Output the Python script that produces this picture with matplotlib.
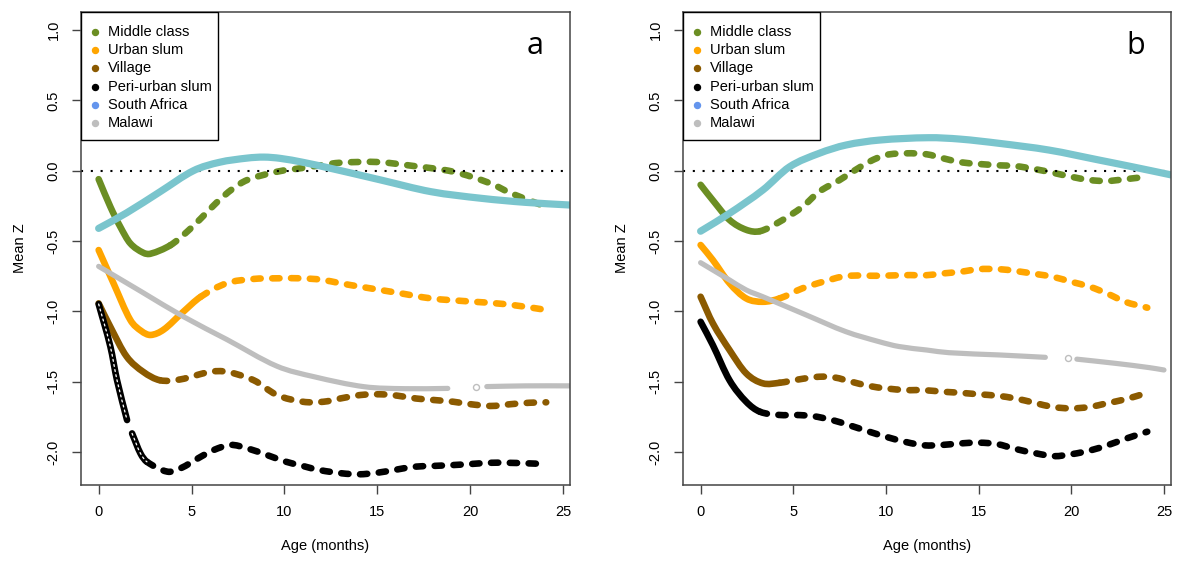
import numpy as np
import matplotlib
matplotlib.use("Agg")
import matplotlib.pyplot as plt
from matplotlib.patches import Rectangle, PathPatch
from matplotlib.path import Path

plt.rcParams['font.family'] = ['Liberation Sans', 'DejaVu Sans']
plt.rcParams['axes.unicode_minus'] = False

# ---------------- data ----------------
groups = ["Middle class", "Urban slum", "Village", "Peri-urban slum", "South Africa", "Malawi"]
legend_colors = ["#6B8E23", "#FFA500", "#8B5A00", "#000000", "#6495ED", "#BEBEBE"]
line_colors = ["#6B8E23", "#FFA500", "#8B5A00", "#000000", "#7AC5CD", "#BEBEBE"]

x_ticks = [0, 5, 10, 15, 20, 25]
y_ticks = [-2.0, -1.5, -1.0, -0.5, 0.0, 0.5, 1.0]

# Panel a
a_mc_age = [0, 0.63, 1.17, 1.7, 2.4, 2.8, 3.86, 4.76, 5.5, 6.4, 7.2, 8.0, 9.6, 11, 12, 13, 15, 17, 19.1, 21.1, 22.2, 24.1]
a_mc_z = [-0.06, -0.256, -0.40, -0.516, -0.583, -0.59, -0.53, -0.434, -0.34, -0.22, -0.13, -0.066, -0.007, 0.02, 0.04, 0.057, 0.062, 0.033, -0.007, -0.09, -0.16, -0.256]

a_us_age = [0, 0.8, 1.7, 2.3, 2.8, 3.5, 4.5, 5.5, 6.9, 8.3, 9.6, 10.9, 12, 13, 14.1, 16.1, 17.9, 20, 22, 24.1]
a_us_z = [-0.564, -0.80, -1.06, -1.14, -1.168, -1.13, -1.01, -0.896, -0.80, -0.77, -0.765, -0.765, -0.775, -0.80, -0.825, -0.868, -0.908, -0.93, -0.95, -0.99]

a_vi_age = [0, 0.63, 1.5, 2.4, 3.3, 4.4, 6.0, 6.9, 8.35, 9.6, 11.0, 12.1, 13.0, 14.1, 15.2, 16.1, 17.1, 18.0, 19.1, 20.0, 21.1, 22.2, 23.2, 24.1]
a_vi_z = [-0.943, -1.11, -1.32, -1.43, -1.49, -1.484, -1.43, -1.43, -1.49, -1.595, -1.643, -1.643, -1.62, -1.595, -1.59, -1.60, -1.62, -1.63, -1.643, -1.66, -1.673, -1.66, -1.65, -1.647]

a_pu_age = [0, 0.63, 0.99, 1.53, np.nan, 1.8, 2.25, 2.6, 3.7, 4.4, 5.5, 6.2, 7.1, 8.0, 9.07, 10.1, 11.0, 11.9, 13.1, 14.0, 15.0, 16.1, 17.0, 17.9, 19.1, 20.0, 21.1, 22.0, 23.1, 24.1]
a_pu_z = [-0.948, -1.25, -1.49, -1.773, np.nan, -1.868, -2.01, -2.07, -2.14, -2.117, -2.034, -1.986, -1.95, -1.974, -2.022, -2.07, -2.10, -2.129, -2.152, -2.159, -2.148, -2.124, -2.105, -2.10, -2.093, -2.086, -2.077, -2.077, -2.081, -2.086]

a_sa_age = [0, 1.5, 3.3, 5.1, 6.5, 8.0, 8.9, 9.78, 11, 12.5, 15.2, 17.9, 20.6, 23, 25.4]
a_sa_z = [-0.41, -0.30, -0.15, 0.0, 0.06, 0.09, 0.097, 0.088, 0.06, 0.017, -0.066, -0.149, -0.196, -0.225, -0.244]

a_mw_age = [0, 2.3, 4.6, 6.9, 9.6, 11.6, 14.3, 16.5, 18.8, np.nan, 20.9, 23, 25.4]
a_mw_z = [-0.68, -0.86, -1.04, -1.20, -1.39, -1.465, -1.536, -1.55, -1.548, np.nan, -1.535, -1.53, -1.53]
a_mw_lone = ([20.3], [-1.54])

# Panel b
b_mc_age = [0, 0.66, 1.56, 2.46, 3.2, 4.26, 5.5, 6.4, 7.5, 8.2, 9.1, 10.0, 11.1, 12.2, 13.1, 14.05, 15.9, 17.0, 18.1, 19.0, 20.0, 21.0, 21.9, 23.0, 24.0]
b_mc_z = [-0.10, -0.21, -0.35, -0.42, -0.43, -0.363, -0.256, -0.149, -0.066, -0.007, 0.064, 0.112, 0.124, 0.117, 0.088, 0.06, 0.04, 0.033, 0.01, -0.014, -0.043, -0.066, -0.073, -0.059, -0.043]

b_us_age = [0, 0.66, 1.56, 2.46, 3.36, 4.26, 5.5, 6.6, 7.85, 9.64, 11.3, 12.0, 13.1, 14.05, 15.0, 16.1, 17.0, 18.1, 19.0, 20.0, 21.0, 22.0, 22.9, 24.1]
b_us_z = [-0.528, -0.635, -0.80, -0.908, -0.932, -0.908, -0.836, -0.79, -0.749, -0.747, -0.742, -0.745, -0.73, -0.718, -0.70, -0.70, -0.713, -0.735, -0.754, -0.79, -0.825, -0.877, -0.932, -0.974]

b_vi_age = [0, 0.66, 1.56, 2.46, 3.36, 4.26, 5.3, 6.4, 7.3, 8.0, 9.1, 10.0, 11.1, 12.0, 13.1, 14.0, 15.0, 16.0, 17.0, 18.0, 19.0, 20.0, 21.0, 21.9, 22.9, 24.1]
b_vi_z = [-0.896, -1.085, -1.275, -1.441, -1.512, -1.508, -1.484, -1.465, -1.472, -1.496, -1.531, -1.548, -1.56, -1.56, -1.572, -1.579, -1.59, -1.60, -1.62, -1.65, -1.68, -1.69, -1.68, -1.654, -1.626, -1.579]

b_pu_age = [0, 0.66, 1.56, 2.46, 3.2, 4.26, 5.15, 6.05, 7.1, 8.0, 9.1, 10.0, 11.1, 12.07, 13.05, 14.05, 15.03, 16.0, 17.0, 18.1, 19.07, 20.06, 21.0, 22.0, 23.0, 24.1]
b_pu_z = [-1.074, -1.24, -1.49, -1.643, -1.714, -1.737, -1.737, -1.745, -1.773, -1.809, -1.856, -1.892, -1.93, -1.953, -1.95, -1.939, -1.934, -1.944, -1.979, -2.01, -2.03, -2.015, -1.99, -1.95, -1.903, -1.856]

b_sa_age = [0, 1.56, 3.36, 4.8, 6.4, 7.85, 9.64, 12.3, 14.0, 16.1, 18.8, 21.5, 23.3, 25.4]
b_sa_z = [-0.43, -0.303, -0.137, 0.028, 0.124, 0.183, 0.218, 0.235, 0.225, 0.195, 0.147, 0.076, 0.028, -0.03]

b_mw_age = [0, 1.56, 2.46, 3.36, 5.7, 7.85, 9.64, 10.7, 12.2, 13.4, 16.1, 18.6, np.nan, 20.3, 22.4, 24.2, 25.0]
b_mw_z = [-0.654, -0.777, -0.848, -0.896, -1.026, -1.145, -1.216, -1.25, -1.275, -1.294, -1.31, -1.327, np.nan, -1.34, -1.37, -1.40, -1.417]
b_mw_lone = ([19.8], [-1.334])

# age up to which each cohort's measurements are continuous (dense)
a_dense_until = {"mc": 3.86, "us": 5.5, "vi": 3.3, "pu": 2.6}
b_dense_until = {"mc": 3.2, "us": 4.26, "vi": 4.26, "pu": 3.2}

# ---------------- drawing ----------------
PX = 72.0 / 100  # points per pixel at 100 dpi
LW = 6.6 * PX
DASH = (0, (1.1, 1.75))


def hermite_tangents(x, y):
    n = len(x)
    m = np.zeros(n)
    if n == 1:
        return m
    m[0] = (y[1] - y[0]) / (x[1] - x[0])
    m[-1] = (y[-1] - y[-2]) / (x[-1] - x[-2])
    for i in range(1, n - 1):
        m[i] = (y[i + 1] - y[i - 1]) / (x[i + 1] - x[i - 1])
    return m


def smooth_path(x, y, m, i0, i1):
    """Cubic Hermite curve through the readings i0..i1 as a Bezier path."""
    verts = [(x[i0], y[i0])]
    codes = [Path.MOVETO]
    for i in range(i0, i1):
        h = x[i + 1] - x[i]
        verts += [(x[i] + h / 3, y[i] + m[i] * h / 3),
                  (x[i + 1] - h / 3, y[i + 1] - m[i + 1] * h / 3),
                  (x[i + 1], y[i + 1])]
        codes += [Path.CURVE4] * 3
    return Path(verts, codes)


def runs(ages, z):
    """Split a series at NaN breaks into contiguous runs."""
    ages = np.asarray(ages, dtype=float)
    z = np.asarray(z, dtype=float)
    ok = ~np.isnan(ages)
    out, start = [], None
    for i, good in enumerate(ok):
        if good and start is None:
            start = i
        if not good and start is not None:
            out.append((ages[start:i], z[start:i]))
            start = None
    if start is not None:
        out.append((ages[start:], z[start:]))
    return out


def add_curve(ax, path, color, lw, zorder, ls='solid'):
    p = PathPatch(path, fill=False, edgecolor=color, lw=lw, zorder=zorder,
                  linestyle=ls, capstyle='round', joinstyle='round')
    ax.add_patch(p)


def draw_cohort(ax, ages, z, color, dense_until, hollow=False):
    for x, y in runs(ages, z):
        m = hermite_tangents(x, y)
        n = len(x)
        hit = np.where(x == dense_until)[0]
        if len(hit):
            k = int(hit[0])
            add_curve(ax, smooth_path(x, y, m, 0, k), color, LW, 2)
            if hollow:
                add_curve(ax, smooth_path(x, y, m, 0, k), 'white', 1.3 * PX, 2.1, (0, (1.5, 2.5)))
            add_curve(ax, smooth_path(x, y, m, k, n - 1), color, LW, 2, DASH)
        elif x[-1] < dense_until:
            add_curve(ax, smooth_path(x, y, m, 0, n - 1), color, LW, 2)
            if hollow:
                add_curve(ax, smooth_path(x, y, m, 0, n - 1), 'white', 1.3 * PX, 2.1, (0, (1.5, 2.5)))
        else:
            add_curve(ax, smooth_path(x, y, m, 0, n - 1), color, LW, 2, DASH)


def draw_solid(ax, ages, z, color, lw, zorder):
    for x, y in runs(ages, z):
        m = hermite_tangents(x, y)
        add_curve(ax, smooth_path(x, y, m, 0, len(x) - 1), color, lw, zorder)


def draw_panel(ax, d, dense, letter):
    draw_cohort(ax, d["mc"][0], d["mc"][1], line_colors[0], dense["mc"])
    draw_cohort(ax, d["us"][0], d["us"][1], line_colors[1], dense["us"])
    draw_cohort(ax, d["vi"][0], d["vi"][1], line_colors[2], dense["vi"])
    draw_cohort(ax, d["pu"][0], d["pu"][1], line_colors[3], dense["pu"], hollow=d["hollow"])
    ax.axhline(0, color='black', lw=1.5, linestyle=(0, (1, 3.7)), zorder=2.5)
    draw_solid(ax, d["sa"][0], d["sa"][1], line_colors[4], 7.2 * PX, 3)
    draw_solid(ax, d["mw"][0], d["mw"][1], line_colors[5], 5.2 * PX, 3.1)
    ax.plot(d["lone"][0], d["lone"][1], linestyle='none', marker='o', ms=6 * PX,
            mfc='white', mec=line_colors[5], mew=1.0, zorder=3.1)

    ax.set_xlim(-0.95, 25.38)
    ax.set_ylim(-2.235, 1.129)
    ax.set_xticks(x_ticks)
    ax.set_xticklabels([str(t) for t in x_ticks])
    ax.set_yticks(y_ticks)
    ax.set_yticklabels([f"{t:.1f}" for t in y_ticks], rotation=90, va='center')
    ax.tick_params(direction='out', length=6.5, width=1.0, color='#444444',
                   labelsize=10.5, pad=8)
    for s in ax.spines.values():
        s.set_color('#444444')
        s.set_linewidth(1.1)
        s.set_zorder(4)
    ax.set_xlabel("Age (months)", fontsize=10.5, labelpad=14)
    ax.set_ylabel("Mean Z", fontsize=10.5, labelpad=14)

    # legend box in the upper-left corner
    bw = 137 / 489
    bh = 128 / 473
    ax.add_patch(Rectangle((0, 1 - bh), bw, bh, transform=ax.transAxes,
                           facecolor='white', edgecolor='black', lw=1.0, zorder=5))
    for i, (name, col) in enumerate(zip(groups, legend_colors)):
        yy = 1 - (19.7 + 18.3 * i) / 473
        ax.plot([14 / 489], [yy], transform=ax.transAxes, marker='o', ms=6 * PX,
                color=col, linestyle='none', zorder=6, clip_on=False)
        ax.text(27 / 489, yy, name, transform=ax.transAxes, fontsize=10.5,
                va='center', ha='left', zorder=6)

    ax.text(454 / 489, 1 - 42 / 473, letter, transform=ax.transAxes,
            fontsize=22, family='Open Sans', ha='center', va='baseline', zorder=6)


panel_a = {"mc": (a_mc_age, a_mc_z), "us": (a_us_age, a_us_z), "vi": (a_vi_age, a_vi_z),
           "pu": (a_pu_age, a_pu_z), "sa": (a_sa_age, a_sa_z), "mw": (a_mw_age, a_mw_z),
           "lone": a_mw_lone, "hollow": True}
panel_b = {"mc": (b_mc_age, b_mc_z), "us": (b_us_age, b_us_z), "vi": (b_vi_age, b_vi_z),
           "pu": (b_pu_age, b_pu_z), "sa": (b_sa_age, b_sa_z), "mw": (b_mw_age, b_mw_z),
           "lone": b_mw_lone, "hollow": False}

fig = plt.figure(figsize=(11.84, 5.61), dpi=100)
ax1 = fig.add_axes([81 / 1184, 1 - 485 / 561, 489 / 1184, 473 / 561])
ax2 = fig.add_axes([683 / 1184, 1 - 485 / 561, 488 / 1184, 473 / 561])

draw_panel(ax1, panel_a, a_dense_until, "a")
draw_panel(ax2, panel_b, b_dense_until, "b")

fig.savefig("out.png", dpi=100)
